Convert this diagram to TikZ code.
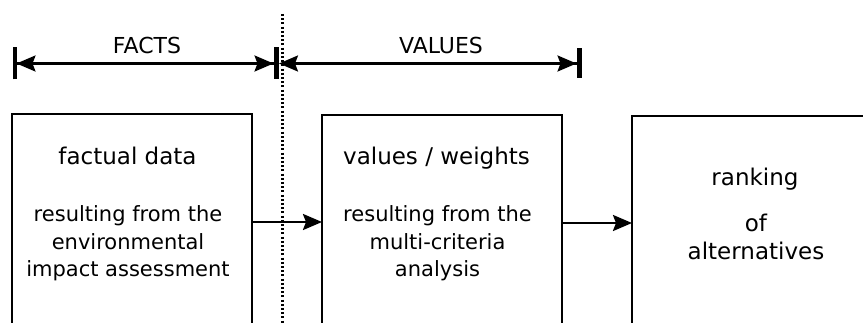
\documentclass[tikz,border=0pt]{standalone}
\usepackage{fontspec}
\setmainfont{DejaVu Sans}
\usetikzlibrary{arrows.meta}

\tikzset{
  myhead/.tip={Stealth[length=19pt,width=16pt,inset=3pt]}
}

\begin{document}
\begin{tikzpicture}[x=1pt,y=-1pt,
  box/.style={draw, line width=2.2pt, anchor=north west, minimum width=240pt,
    inner sep=0pt, outer sep=0pt},
  heading/.style={font=\fontsize{22}{26}\selectfont, anchor=base, inner sep=0pt},
  % multi-line texts are placed by the baseline of their last line
  title/.style={font=\fontsize{23}{28}\selectfont, anchor=base, inner sep=0pt, align=center},
  desc/.style={font=\fontsize{21}{27.5}\selectfont, align=center, anchor=base, inner sep=0pt},
  flow/.style={line width=2.4pt, -{myhead[]}},
  dimline/.style={line width=2.2pt},
  divider/.style={line width=2.4pt, dash pattern=on 2pt off 2.2pt}
]
\useasboundingbox (0,0) rectangle (863,323);
\clip (0,0) rectangle (863,323);

% dotted divider between the fact and value domains
\coordinate (dtop) at (282.5,14);
\coordinate (dbot) at (282.5,323);
\draw[divider] (dtop) -- (dbot);

% dimension lines with their bars
\coordinate (fl) at (13,63.5);
\coordinate (fm) at (279,63.5);
\coordinate (vr) at (582,63.5);
\draw[dimline, {Bar[width=32pt,line width=3.5pt]myhead[]}-{myhead[]Bar[width=32pt,line width=5.5pt]}] (fl) -- (fm);
\draw[dimline, {myhead[]}-{myhead[]Bar[width=30pt,line width=5.5pt]}] (fm) -- (vr);
\node[heading] (facts) at (147,54) {FACTS};
\node[heading] (values) at (441,54) {VALUES};

% the three boxes
\node[box, minimum height=216pt] (data) at (12,114) {};
\node[box, minimum height=216pt] (weights) at (322,115) {};
\node[box, minimum width=290pt, minimum height=214pt] (rank) at (632,116) {};

% box texts
\node[title] (t1) at (127.5,165) {factual data};
\node[desc] (d1) at (128,277) {resulting from the\\environmental\\impact assessment};
\node[title] (t2) at (436.5,165) {values / weights};
\node[desc] (d2) at (437.5,277) {resulting from the\\multi-criteria\\analysis};
\node[title] (t3) at (755,186) {ranking};
\node[title] (t4) at (756,260) {of\\alternatives};

% flow between the boxes
\draw[flow] (data.east) -- (data.east -| weights.west);
\draw[flow] (weights.east) -- (rank.west);
\end{tikzpicture}
\end{document}
